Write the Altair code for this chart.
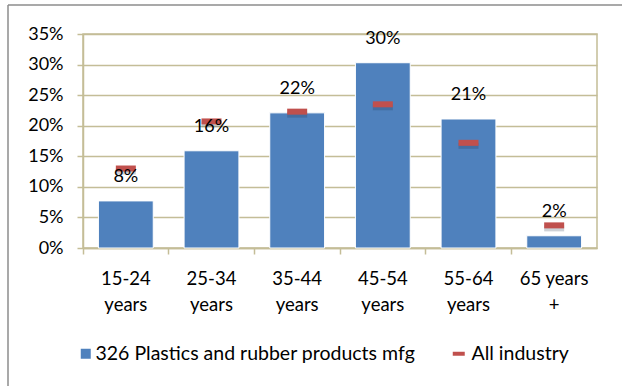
import altair as alt
import pandas as pd
import json

# Age groups on the x axis and their two-line tick labels
age_groups = ["15-24 years", "25-34 years", "35-44 years", "45-54 years", "55-64 years", "65 years +"]
tick_lines = [["15-24", "years"], ["25-34", "years"], ["35-44", "years"],
              ["45-54", "years"], ["55-64", "years"], ["65 years", "+"]]

# Share of employment by age group
plastics_share = [0.077, 0.159, 0.221, 0.303, 0.211, 0.020]
industry_share = [0.130, 0.207, 0.223, 0.235, 0.172, 0.037]

series_names = ["326 Plastics and rubber products mfg", "All industry"]
series_colors = ["#4F81BD", "#C0504D"]
y_ticks = [0, 0.05, 0.10, 0.15, 0.20, 0.25, 0.30, 0.35]

FONT = "Lato"
FS = 18
GRID = "#C4BD97"
FRAME = "#8C8C8C"

bars_df = pd.DataFrame({"age": age_groups, "share": plastics_share, "series": series_names[0]})
ind_df = pd.DataFrame({"age": age_groups, "share": industry_share, "series": series_names[1]})
frame_df = pd.DataFrame({"k": [0]})

label_expr = " : ".join(
    f"datum.value === '{a}' ? {json.dumps(l)}" for a, l in zip(age_groups, tick_lines)
) + " : datum.value"

x_enc = alt.X(
    "age:N",
    sort=age_groups,
    scale=alt.Scale(domain=age_groups, paddingInner=0, paddingOuter=0),
    axis=alt.Axis(
        title=None, labelExpr=label_expr, labelAngle=0, bandPosition=0,
        tickSize=6, tickColor=GRID, tickWidth=1.5, domainColor=GRID, domainWidth=1.5,
        labelFont=FONT, labelFontSize=18.5, labelLineHeight=26, labelPadding=15,
        labelColor="#000000", grid=False,
    ),
)
y_enc = alt.Y(
    "share:Q",
    scale=alt.Scale(domain=[0, 0.35], nice=False, zero=True),
    axis=alt.Axis(
        title=None, values=y_ticks, format=".0%", tickSize=6, tickColor=GRID, tickWidth=1.5,
        domainColor=GRID, domainWidth=1.5, gridColor=GRID, gridWidth=1.5,
        labelFont=FONT, labelFontSize=FS, labelPadding=14, labelColor="#000000",
        labelOverlap=False,
    ),
)

legend_common = dict(
    title=None, orient="none", direction="horizontal", legendY=310, padding=0,
    labelFont=FONT, labelFontSize=19.5, labelColor="#000000", symbolSize=100,
    symbolStrokeWidth=0, labelLimit=500,
)

bar_color = alt.Color(
    "series:N",
    scale=alt.Scale(domain=[series_names[0]], range=[series_colors[0]]),
    legend=alt.Legend(legendX=-7, symbolType="square", labelOffset=0, **legend_common),
)
marker_fill = alt.Fill(
    "series:N",
    scale=alt.Scale(domain=[series_names[1]], range=[series_colors[1]]),
    legend=alt.Legend(legendX=366, symbolType="M-1.2,-0.4H1.2V0.4H-1.2Z", labelOffset=3,
                      **legend_common),
)

bars = alt.Chart(bars_df).mark_bar(
    width=alt.RelativeBandSize(0.64), stroke="white", strokeWidth=1
).encode(x=x_enc, y=y_enc, color=bar_color)

labels = alt.Chart(bars_df).mark_text(
    dy=-24, baseline="middle", font=FONT, fontSize=FS, color="#000000"
).encode(x=x_enc, y=y_enc, text=alt.Text("share:Q", format=".0%"))

marker_shadow = alt.Chart(ind_df).mark_tick(
    size=20, thickness=6, color="#1F2F45", opacity=0.22, yOffset=3
).encode(x=x_enc, y=y_enc)

markers = alt.Chart(ind_df).mark_tick(size=20, thickness=6, opacity=1).encode(
    x=x_enc, y=y_enc, fill=marker_fill
)

# Outer chart frame (left and top edges)
frame_left = alt.Chart(frame_df).mark_rule(color=FRAME, strokeWidth=1.5).encode(
    x=alt.value(-75), y=alt.value(-29), y2=alt.value(360)
)
frame_top = alt.Chart(frame_df).mark_rule(color=FRAME, strokeWidth=1.5).encode(
    x=alt.value(-75), x2=alt.value(545), y=alt.value(-29)
)

chart = alt.layer(
    frame_left, frame_top, bars, marker_shadow, markers, labels
).resolve_legend(color="independent", fill="independent").properties(
    width=514, height=214,
    autosize="none",
    padding={"left": 83, "top": 34, "right": 25, "bottom": 138},
    background="white",
).configure_view(stroke=GRID, strokeWidth=1.5)

chart.save("out.html", embed_options={"renderer": "svg", "actions": False})
